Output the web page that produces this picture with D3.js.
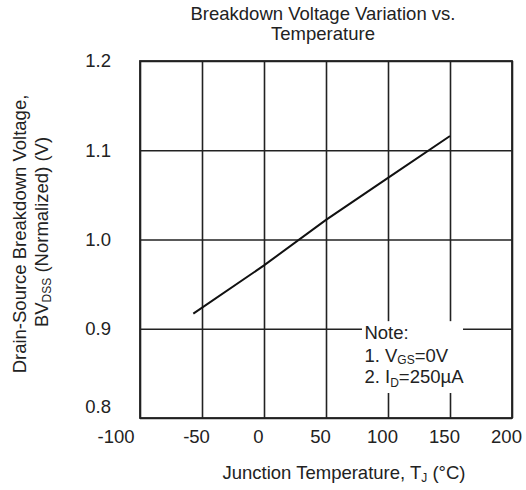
<!DOCTYPE html>
<html>
<head>
<meta charset="utf-8">
<script src="https://cdn.jsdelivr.net/npm/d3@7"></script>
<style>
  body { margin: 0; background: #fff; }
  svg text { font-family: "Liberation Sans", Arial, sans-serif; fill: #222; }
  .grid line { stroke: #222; stroke-width: 1.6; }
  .grid .domain { display: none; }
</style>
</head>
<body>
<svg id="chart"></svg>
<script>
// values
const tempC = [-57, 0, 50, 100, 150];
const bvNorm = [0.917, 0.971, 1.022, 1.069, 1.116];
const xTicks = [-100, -50, 0, 50, 100, 150, 200];
const yTicks = [0.8, 0.9, 1.0, 1.1, 1.2];
const titleLines = ['Breakdown Voltage Variation vs.', 'Temperature'];

const width = 526, height = 490;
const margin = {top: 61, right: 14, bottom: 72, left: 140};
const w = width - margin.left - margin.right;
const h = height - margin.top - margin.bottom;
const fs = 18.5;

const svg = d3.select('#chart')
  .attr('width', width)
  .attr('height', height);

const chart = svg.append('g')
  .attr('transform', `translate(${margin.left},${margin.top})`);

const x = d3.scaleLinear().domain([-100, 200]).range([0, w]);
const y = d3.scaleLinear().domain([0.8, 1.2]).range([h, 0]);

// vertical grid + x tick labels (plain hyphen for negatives, like the original)
const xAxisG = chart.append('g')
  .attr('class', 'grid')
  .attr('transform', `translate(0,${h})`)
  .call(d3.axisBottom(x).tickValues(xTicks).tickSize(-h).tickPadding(12).tickFormat(d => String(d)));
xAxisG.selectAll('text').attr('font-size', fs).attr('dx', -6);
xAxisG.selectAll('text').filter(d => d === -100).attr('text-anchor', 'end').attr('dx', -6);

// horizontal grid + y tick labels
const yAxisG = chart.append('g')
  .attr('class', 'grid')
  .call(d3.axisLeft(y).tickValues(yTicks).tickSize(-w).tickPadding(29).tickFormat(d3.format('.1f')));
yAxisG.selectAll('text').attr('font-size', fs);
yAxisG.selectAll('text').filter(d => d === 0.8).attr('dy', '-0.3em');

// frame
chart.append('rect')
  .attr('width', w).attr('height', h)
  .attr('fill', 'none')
  .attr('stroke', '#222')
  .attr('stroke-width', 1.8);

// curve
const line = d3.line().x((d, i) => x(tempC[i])).y(d => y(d));
chart.append('path')
  .datum(bvNorm)
  .attr('d', line)
  .attr('fill', 'none')
  .attr('stroke', '#111')
  .attr('stroke-width', 2);

// note box (white patch over the grid)
chart.append('rect')
  .attr('x', x(79)).attr('y', y(0.9085))
  .attr('width', x(160.5) - x(79)).attr('height', y(0.828) - y(0.9085))
  .attr('fill', '#fff');

const nx = x(81);
const note = chart.append('text').attr('font-size', fs);
note.append('tspan').attr('x', nx).attr('y', y(0.8885)).text('Note:');
const n1 = note.append('tspan').attr('x', nx).attr('y', y(0.8627));
n1.append('tspan').text('1. V');
n1.append('tspan').attr('font-size', 12).attr('dy', 2).text('GS');
n1.append('tspan').attr('dy', -2).text('=0V');
const n2 = note.append('tspan').attr('x', nx).attr('y', y(0.839));
n2.append('tspan').text('2. I');
n2.append('tspan').attr('font-size', 12).attr('dy', 4).text('D');
n2.append('tspan').attr('dy', -4).text('=250µA');

// title
svg.append('text')
  .attr('font-size', fs)
  .attr('text-anchor', 'middle')
  .selectAll('tspan')
  .data(titleLines)
  .join('tspan')
  .attr('x', 323)
  .attr('y', (d, i) => 20 + i * 20)
  .text(d => d);

// x axis title
const xt = svg.append('text')
  .attr('font-size', fs)
  .attr('text-anchor', 'middle')
  .attr('x', 344)
  .attr('y', 479);
xt.append('tspan').text('Junction Temperature, T');
xt.append('tspan').attr('font-size', 12).attr('dy', 3).text('J');
xt.append('tspan').attr('dy', -3).text(' (°C)');

// y axis title (two lines)
svg.append('text')
  .attr('font-size', fs)
  .attr('text-anchor', 'middle')
  .attr('transform', 'translate(26,234) rotate(-90)')
  .text('Drain-Source Breakdown Voltage,');

const yt = svg.append('text')
  .attr('font-size', fs)
  .attr('text-anchor', 'middle')
  .attr('transform', 'translate(48,232) rotate(-90)');
yt.append('tspan').text('BV');
yt.append('tspan').attr('font-size', 12).attr('dy', 3).text('DSS');
yt.append('tspan').attr('dy', -3).text(' (Normalized) (V)');
</script>
</body>
</html>
